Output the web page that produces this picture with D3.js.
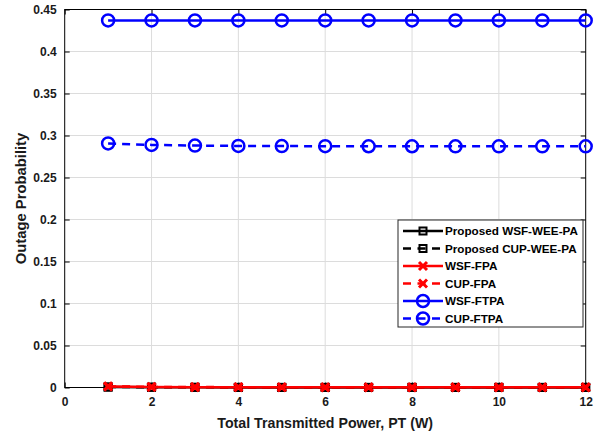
<!DOCTYPE html>
<html>
<head>
<meta charset="utf-8">
<script src="https://cdn.jsdelivr.net/npm/d3@7"></script>
<style>
  html, body { margin: 0; padding: 0; background: #fff; }
  svg { display: block; font-family: "Liberation Sans", Arial, sans-serif; }
</style>
</head>
<body>
<svg id="chart" width="603" height="437"></svg>
<script>
// Total transmitted power (W)
const powerW = [1, 2, 3, 4, 5, 6, 7, 8, 9, 10, 11, 12];

// Outage probability per scheme
const proposedWSF = [0.0005, 0.0003, 0.0002, 0.0001, 0.0001, 0.0001, 0.0001, 0.0001, 0.0001, 0.0001, 0.0001, 0.0001];
const proposedCUP = [0.0006, 0.0003, 0.0002, 0.0001, 0.0001, 0.0001, 0.0001, 0.0001, 0.0001, 0.0001, 0.0001, 0.0001];
const wsfFPA      = [0.0012, 0.0006, 0.0004, 0.0003, 0.0003, 0.0002, 0.0002, 0.0002, 0.0002, 0.0002, 0.0002, 0.0002];
const cupFPA      = [0.0014, 0.0007, 0.0005, 0.0004, 0.0003, 0.0003, 0.0003, 0.0003, 0.0003, 0.0003, 0.0003, 0.0003];
const wsfFTPA     = [0.437, 0.437, 0.437, 0.437, 0.437, 0.437, 0.437, 0.437, 0.437, 0.437, 0.437, 0.437];
const cupFTPA     = [0.2905, 0.2888, 0.2880, 0.2876, 0.2874, 0.2873, 0.2872, 0.2872, 0.2871, 0.2871, 0.2871, 0.2871];

const xTicks = [0, 2, 4, 6, 8, 10, 12];
const yTicks = [0, 0.05, 0.1, 0.15, 0.2, 0.25, 0.3, 0.35, 0.4, 0.45];

const seriesNames = ["Proposed WSF-WEE-PA", "Proposed CUP-WEE-PA", "WSF-FPA", "CUP-FPA", "WSF-FTPA", "CUP-FTPA"];
const seriesData = [proposedWSF, proposedCUP, wsfFPA, cupFPA, wsfFTPA, cupFTPA];
const seriesColors = ["#000000", "#000000", "#ff0000", "#ff0000", "#0000ff", "#0000ff"];
const seriesDashed = [false, true, false, true, false, true];
const seriesMarkers = ["square", "square", "cross", "cross", "circle", "circle"];

const svg = d3.select("#chart");
const plotL = 64.7, plotR = 585.7, plotT = 9.5, plotB = 387.5;

const x = d3.scaleLinear().domain([0, 12]).range([plotL, plotR]);
const y = d3.scaleLinear().domain([0, 0.45]).range([plotB, plotT]);

// grid
const grid = svg.append("g");
grid.selectAll("line.gx").data(xTicks.slice(1, -1)).join("line")
  .attr("x1", d => x(d)).attr("x2", d => x(d))
  .attr("y1", plotT).attr("y2", plotB)
  .attr("stroke", "#dcdcdc").attr("stroke-width", 1);
grid.selectAll("line.gy").data(yTicks.slice(1, -1)).join("line")
  .attr("x1", plotL).attr("x2", plotR)
  .attr("y1", d => y(d)).attr("y2", d => y(d))
  .attr("stroke", "#dcdcdc").attr("stroke-width", 1);

// axes with inward ticks
const fmtY = d => d === 0 ? "0" : String(+d.toFixed(2));
const xAxis = d3.axisBottom(x).tickValues(xTicks).tickSizeInner(-5).tickSizeOuter(0).tickPadding(10).tickFormat(d3.format("d"));
const yAxis = d3.axisLeft(y).tickValues(yTicks).tickSizeInner(-5).tickSizeOuter(0).tickPadding(8).tickFormat(fmtY);

const gx = svg.append("g").attr("transform", `translate(0,${plotB})`).call(xAxis);
const gy = svg.append("g").attr("transform", `translate(${plotL},0)`).call(yAxis);
[gx, gy].forEach(g => {
  g.select(".domain").remove();
  g.selectAll("line").attr("stroke", "#000").attr("stroke-width", 1);
  g.selectAll("text").attr("fill", "#1a1a1a").attr("font-size", 12).attr("font-weight", "bold")
    .attr("font-family", "Liberation Sans, Arial, sans-serif");
});
// mirrored ticks on top and right
svg.append("g").attr("transform", `translate(0,${plotT})`)
  .call(d3.axisTop(x).tickValues(xTicks).tickSizeInner(-5).tickSizeOuter(0).tickFormat(""))
  .call(g => { g.select(".domain").remove(); g.selectAll("line").attr("stroke", "#000"); });
svg.append("g").attr("transform", `translate(${plotR},0)`)
  .call(d3.axisRight(y).tickValues(yTicks).tickSizeInner(-5).tickSizeOuter(0).tickFormat(""))
  .call(g => { g.select(".domain").remove(); g.selectAll("line").attr("stroke", "#000"); });

// box
svg.append("rect").attr("x", plotL).attr("y", plotT)
  .attr("width", plotR - plotL).attr("height", plotB - plotT)
  .attr("fill", "none").attr("stroke", "#000").attr("stroke-width", 1);

// axis titles
svg.append("text").attr("x", (plotL + plotR) / 2).attr("y", 428)
  .attr("text-anchor", "middle").attr("font-size", 14.2).attr("font-weight", "bold").attr("fill", "#1a1a1a")
  .text("Total Transmitted Power, PT (W)");
svg.append("text").attr("transform", `translate(26,${(plotT + plotB) / 2}) rotate(-90)`)
  .attr("text-anchor", "middle").attr("font-size", 14.8).attr("font-weight", "bold").attr("fill", "#1a1a1a")
  .text("Outage Probability");

function drawMarker(g, type, cx, cy, color) {
  if (type === "square") {
    g.append("rect").attr("x", cx - 3.5).attr("y", cy - 3.5).attr("width", 7).attr("height", 7)
      .attr("fill", "none").attr("stroke", color).attr("stroke-width", 2);
  } else if (type === "cross") {
    g.append("path").attr("d", `M${cx - 4},${cy - 4}L${cx + 4},${cy + 4}M${cx - 4},${cy + 4}L${cx + 4},${cy - 4}`)
      .attr("stroke", color).attr("stroke-width", 3).attr("fill", "none");
  } else {
    g.append("circle").attr("cx", cx).attr("cy", cy).attr("r", 6)
      .attr("fill", "none").attr("stroke", color).attr("stroke-width", 2.5);
  }
}

const line = d3.line().x((d, i) => x(powerW[i])).y(d => y(d));
const plot = svg.append("g");
seriesData.forEach((vals, s) => {
  const g = plot.append("g");
  g.append("path").attr("d", line(vals)).attr("fill", "none")
    .attr("stroke", seriesColors[s]).attr("stroke-width", 2.5)
    .attr("stroke-dasharray", seriesDashed[s] ? "8,6" : null);
  vals.forEach((v, i) => drawMarker(g, seriesMarkers[s], x(powerW[i]), y(v), seriesColors[s]));
});

// legend
const lg = svg.append("g");
const lx = 398, ly = 220, lw = 185, lh = 107, rowH = 17.5;
lg.append("rect").attr("x", lx).attr("y", ly).attr("width", lw).attr("height", lh)
  .attr("fill", "#fff").attr("stroke", "#262626").attr("stroke-width", 1);
seriesNames.forEach((name, s) => {
  const cy = ly + 11 + s * rowH;
  const row = lg.append("g");
  row.append("line").attr("x1", lx + 5).attr("x2", lx + 45).attr("y1", cy).attr("y2", cy)
    .attr("stroke", seriesColors[s]).attr("stroke-width", 2.5)
    .attr("stroke-dasharray", seriesDashed[s] ? "8,6.5" : null);
  drawMarker(row, seriesMarkers[s], lx + 25, cy, seriesColors[s]);
  row.append("text").attr("x", lx + 47).attr("y", cy + 4.2)
    .attr("font-size", 11.7).attr("font-weight", "bold").attr("fill", "#000").text(name);
});
</script>
</body>
</html>
